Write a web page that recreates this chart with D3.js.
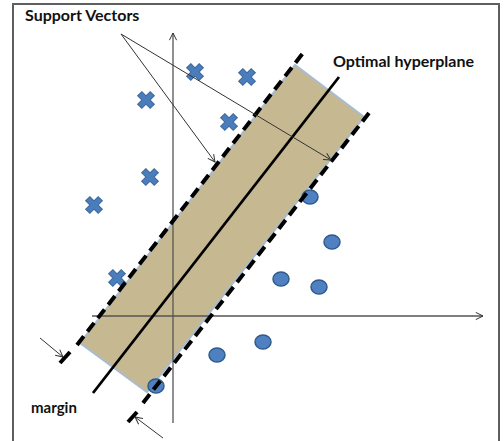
<!DOCTYPE html>
<html><head><meta charset="utf-8">
<script src="https://cdn.jsdelivr.net/npm/d3@7"></script>
<style>body{margin:0;background:#fff}svg{display:block}</style>
</head><body>
<script>
// Data (units: axis coordinates, origin at axes crossing)
const crossX = [2.2, 7.4, -2.7, 5.6, -2.3, -7.9, -5.6];
const crossY = [24.4, 23.9, 21.6, 19.4, 13.9, 11.1, 3.8];
const circleX = [13.7, 15.9, 10.8, 14.6, 9.0, 4.4, -1.7];
const circleY = [11.9, 7.4, 3.7, 2.9, -2.6, -3.9, -7.0];
const bandX = [-9.3, 12.2, 19.1, -2.6];
const bandY = [-2.7, 25.1, 19.9, -7.6];
const upperMarginX = [-9.6, 13.0];
const upperMarginY = [-2.9, 26.3];
const lowerMarginX = [-3.0, 19.6];
const lowerMarginY = [-8.7, 20.3];
const hyperplaneX = [-8.0, 16.6];
const hyperplaneY = [-7.7, 23.9];
const xAxisRange = [-8.1, 31.0];
const yAxisRange = [-10.7, 28.3];
const labels = ["Support Vectors", "Optimal hyperplane", "margin"];

const W = 504, H = 441;
const x = d3.scaleLinear().domain([-17.3, 33.1]).range([0, 504]);
const y = d3.scaleLinear().domain([31.6, -12.5]).range([0, 441]);

const svg = d3.select("body").append("svg").attr("width", W).attr("height", H);
const defs = svg.append("defs");
defs.append("marker").attr("id", "open").attr("viewBox", "0 0 10 10")
  .attr("refX", 9).attr("refY", 5).attr("markerWidth", 9).attr("markerHeight", 9)
  .attr("markerUnits", "userSpaceOnUse").attr("orient", "auto")
  .append("path").attr("d", "M1,1 L9,5 L1,9").attr("fill", "none")
  .attr("stroke", "#333").attr("stroke-width", 1.1);

// frame
svg.append("rect").attr("x", 13).attr("y", 4).attr("width", 486).attr("height", 445)
  .attr("fill", "#fff").attr("stroke", "#5f5f5f").attr("stroke-width", 2);

// band
const bandPts = bandX.map((v, i) => [x(v), y(bandY[i])]);
svg.append("path").attr("d", d3.line()(bandPts) + "Z")
  .attr("fill", "#c6b992").attr("stroke", "#a9bccf").attr("stroke-width", 2);

// axes
svg.append("line").attr("x1", x(xAxisRange[0])).attr("x2", x(xAxisRange[1]))
  .attr("y1", y(0)).attr("y2", y(0)).attr("stroke", "#555").attr("stroke-width", 1.3)
  .attr("marker-end", "url(#open)");
svg.append("line").attr("x1", x(0)).attr("x2", x(0))
  .attr("y1", y(yAxisRange[0])).attr("y2", y(yAxisRange[1])).attr("stroke", "#555").attr("stroke-width", 1.3)
  .attr("marker-end", "url(#open)");

// markers
const crosses = crossX.map((v, i) => [v, crossY[i]]);
const circles = circleX.map((v, i) => [v, circleY[i]]);
svg.selectAll(".cross").data(crosses).join("path").attr("class", "cross")
  .attr("d", d3.symbol(d3.symbolCross, 175)())
  .attr("transform", d => `translate(${x(d[0])},${y(d[1])}) rotate(45)`)
  .attr("fill", "#4a7dbb").attr("stroke", "#3b6699").attr("stroke-width", 1);
svg.selectAll(".circ").data(circles).join("ellipse").attr("class", "circ")
  .attr("cx", d => x(d[0])).attr("cy", d => y(d[1])).attr("rx", 8).attr("ry", 7)
  .attr("fill", "#4f81c2").attr("stroke", "#2f5a8a").attr("stroke-width", 1.5);

// margin lines
function seg(xs, ys) { return d3.line()(xs.map((v, i) => [x(v), y(ys[i])])); }
svg.append("path").attr("d", seg(upperMarginX, upperMarginY)).attr("stroke", "#000")
  .attr("stroke-width", 4).attr("stroke-dasharray", "11,6").attr("fill", "none");
svg.append("path").attr("d", seg(lowerMarginX, lowerMarginY)).attr("stroke", "#000")
  .attr("stroke-width", 4).attr("stroke-dasharray", "11,6").attr("fill", "none");
svg.append("path").attr("d", seg(hyperplaneX, hyperplaneY)).attr("stroke", "#000")
  .attr("stroke-width", 2.8).attr("fill", "none");

// annotation arrows
const annX = [-5.2, 4.2, 15.8];
const annY = [28.2, 15.4, 15.6];
function arrow(x1, y1, x2, y2) {
  svg.append("line").attr("x1", x1).attr("y1", y1).attr("x2", x2).attr("y2", y2)
    .attr("stroke", "#333").attr("stroke-width", 1).attr("marker-end", "url(#open)");
}
arrow(x(annX[0]), y(annY[0]), x(annX[1]), y(annY[1]));
arrow(x(annX[0]), y(annY[0]), x(annX[2]), y(annY[2]));

// margin indicator arrows
const mArrX = [-13.3, -11.0, -1.0, -3.8];
const mArrY = [-2.2, -4.1, -12.2, -10.1];
arrow(x(mArrX[0]), y(mArrY[0]), x(mArrX[1]), y(mArrY[1]));
arrow(x(mArrX[2]), y(mArrY[2]), x(mArrX[3]), y(mArrY[3]));
const tickX = [[-11.3, -10.3], [-4.5, -3.6]];
const tickY = [[-4.7, -3.6], [-10.6, -9.6]];
tickX.forEach((t, i) => {
  svg.append("line").attr("x1", x(t[0])).attr("y1", y(tickY[i][0]))
    .attr("x2", x(t[1])).attr("y2", y(tickY[i][1]))
    .attr("stroke", "#000").attr("stroke-width", 4);
});

// labels
const font = "Lato, 'Open Sans', sans-serif";
svg.append("text").attr("x", 25).attr("y", 21).text(labels[0])
  .attr("font-family", font).attr("font-weight", "bold").attr("font-size", 16).attr("fill", "#111");
svg.append("text").attr("x", 333).attr("y", 67).text(labels[1])
  .attr("font-family", font).attr("font-weight", "bold").attr("font-size", 16).attr("fill", "#111");
svg.append("text").attr("x", 31).attr("y", 413).text(labels[2])
  .attr("font-family", font).attr("font-weight", "bold").attr("font-size", 15).attr("fill", "#111");
</script>
</body></html>
